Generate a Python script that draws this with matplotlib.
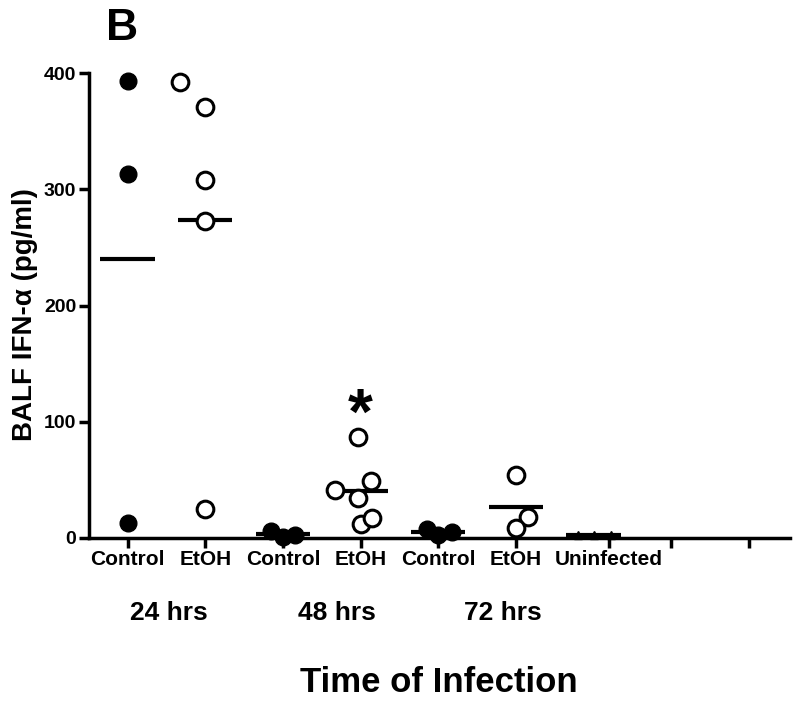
import numpy as np
import matplotlib
matplotlib.use("Agg")
import matplotlib.pyplot as plt

plt.rcParams['font.family'] = ['Liberation Sans', 'DejaVu Sans']
plt.rcParams['font.weight'] = 'bold'

# =============================================================================
# DATA (pg/ml)
# =============================================================================
tick_labels = ["Control", "EtOH", "Control", "EtOH", "Control", "EtOH", "Uninfected", "", ""]
time_labels = ["24 hrs", "48 hrs", "72 hrs"]

ctrl_24 = [393, 313, 13]
etoh_24 = [392, 371, 308, 273, 25]
ctrl_48 = [6, 1, 2.5]
etoh_48 = [87, 41, 34, 49, 12, 17]
ctrl_72 = [8, 3, 5.5]
etoh_72 = [54, 18, 9]
uninfected = [3, 2.5, 3]

# column positions on the x axis (the Uninfected tick sits off the regular grid)
tick_pos = [1, 2, 3, 4, 5, 6, 7.2, 8, 9]

# horizontal scatter of the points inside each column (layout only)
off_ctrl_24 = [0, 0, 0]
off_etoh_24 = [-0.33, 0, 0, 0, 0]
off_ctrl_48 = [-0.15, 0, 0.15]
off_etoh_48 = [-0.03, -0.33, -0.03, 0.14, 0, 0.15]
off_ctrl_72 = [-0.14, 0, 0.18]
off_etoh_72 = [0, 0.15, 0]
off_uninf = [-0.4, -0.19, 0.02]

groups = [
    (tick_pos[0], ctrl_24, off_ctrl_24, 'filled', 0),
    (tick_pos[1], etoh_24, off_etoh_24, 'open', 0),
    (tick_pos[2], ctrl_48, off_ctrl_48, 'filled', 0),
    (tick_pos[3], etoh_48, off_etoh_48, 'open', 0),
    (tick_pos[4], ctrl_72, off_ctrl_72, 'filled', 0),
    (tick_pos[5], etoh_72, off_etoh_72, 'open', 0),
    (tick_pos[6], uninfected, off_uninf, 'tri', -0.2),
]

# =============================================================================
# PLOT
# =============================================================================
fig = plt.figure(figsize=(8, 7.04), dpi=100)
ax = fig.add_axes([0.111, 0.2358, 0.8765, 0.6605])

for pos, vals, offs, kind, line_shift in groups:
    xs = pos + np.array(offs)
    m = np.mean(vals)
    ax.hlines(m, pos + line_shift - 0.35, pos + line_shift + 0.35, color='black', lw=3, zorder=2)
    if kind == 'filled':
        ax.plot(xs, vals, 'o', ms=12, mfc='black', mec='black', ls='none', zorder=3, clip_on=False)
    elif kind == 'open':
        ax.plot(xs, vals, 'o', ms=12, mfc='white', mec='black', mew=2.2, ls='none', zorder=3, clip_on=False)
    else:
        ax.plot(xs, vals, '^', ms=6, mfc='black', mec='black', ls='none', zorder=3, clip_on=False)

# significance star over 48 hrs EtOH
ax.text(3.99, 90, "*", ha='center', va='baseline', fontsize=46, fontweight='bold')

ax.set_xlim(0.5, 9.53)
ax.set_ylim(0, 400)
ax.set_xticks(tick_pos)
ax.set_xticklabels(tick_labels, fontsize=15, fontweight='bold')
ax.set_yticks([0, 100, 200, 300, 400])
ax.set_yticklabels(["0", "100", "200", "300", "400"], fontsize=14, fontweight='bold')

for side in ['top', 'right']:
    ax.spines[side].set_visible(False)
for side in ['left', 'bottom']:
    ax.spines[side].set_linewidth(2.5)
ax.tick_params(axis='both', direction='out', length=7, width=2.5, pad=2)

# time group labels under the ticks
for x, lab in zip([1.53, 3.69, 5.83], time_labels):
    ax.text(x, -0.161, lab, transform=ax.get_xaxis_transform(), ha='center', va='center',
            fontsize=19, fontweight='bold')

fig.text(25 / 800, 1 - 315 / 704, "BALF IFN-\u03b1 (pg/ml)", rotation=90, ha='center', va='center',
         fontsize=20, fontweight='bold')
fig.text(439 / 800, 1 - 683 / 704, "Time of Infection", ha='center', va='center',
         fontsize=25, fontweight='bold')
fig.text(122 / 800, 1 - 28 / 704, "B", ha='center', va='center', fontsize=32, fontweight='bold')

plt.savefig('out.png', dpi=100)
